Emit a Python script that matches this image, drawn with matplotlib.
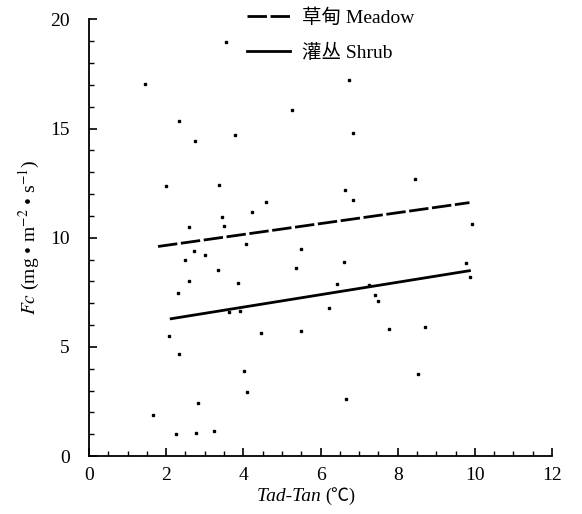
import matplotlib
matplotlib.use("Agg")
import matplotlib.pyplot as plt
from matplotlib.ticker import MultipleLocator

plt.rcParams['font.family'] = ['Liberation Serif', 'Noto Sans CJK SC', 'DejaVu Sans']
plt.rcParams['mathtext.fontset'] = 'stix'

# dados
x_pontos = [1.46, 3.55, 5.25, 2.34, 3.78, 2.75, 6.74, 6.83, 2.00, 3.37,
            4.58, 4.22, 3.44, 3.49, 2.59, 4.08, 2.72, 3.01, 2.50, 3.35,
            2.59, 3.85, 2.31, 5.50, 5.36, 6.63, 6.84, 8.46, 9.93, 6.62,
            6.42, 7.26, 7.42, 7.48, 6.23, 9.76, 9.87, 3.62, 3.92, 2.08,
            4.45, 5.49, 2.34, 4.03, 4.09, 2.83, 1.67, 2.25, 2.78, 3.23,
            7.78, 8.70, 8.52, 6.67]
y_pontos = [17.06, 18.96, 15.83, 15.37, 14.72, 14.43, 17.24, 14.81, 12.39, 12.40,
            11.64, 11.20, 10.93, 10.53, 10.48, 9.72, 9.41, 9.19, 8.99, 8.51,
            8.02, 7.91, 7.46, 9.47, 8.63, 12.20, 11.72, 12.68, 10.61, 8.89,
            7.86, 7.85, 7.37, 7.12, 6.80, 8.86, 8.19, 6.61, 6.64, 5.51,
            5.63, 5.72, 4.69, 3.90, 2.95, 2.45, 1.87, 1.03, 1.06, 1.16,
            5.80, 5.90, 3.74, 2.59]

# retas de ajuste
x_prado = [1.79, 9.86]
y_prado = [9.60, 11.61]
x_arbusto = [2.13, 9.86]
y_arbusto = [6.29, 8.49]

fig = plt.figure(figsize=(5.82, 5.14), dpi=100)
ax = fig.add_axes([0.1529, 0.1128, 0.7956, 0.8493])

ax.plot(x_pontos, y_pontos, 's', color='black', markersize=2.1, linestyle='none')
l1, = ax.plot(x_prado, y_prado, color='black', linewidth=2.0, dashes=(7, 1.3),
              label='草甸 Meadow')
l2, = ax.plot(x_arbusto, y_arbusto, color='black', linewidth=2.0,
              label='灌丛 Shrub')

ax.set_xlim(0, 12)
ax.set_ylim(0, 20)
ax.xaxis.set_major_locator(MultipleLocator(2))
ax.xaxis.set_minor_locator(MultipleLocator(0.5))
ax.yaxis.set_major_locator(MultipleLocator(5))
ax.yaxis.set_minor_locator(MultipleLocator(1))

ax.spines['top'].set_visible(False)
ax.spines['right'].set_visible(False)
ax.spines['left'].set_linewidth(1.3)
ax.spines['bottom'].set_linewidth(1.3)

ax.tick_params(which='major', direction='in', length=6, width=1.2, labelsize=14)
ax.tick_params(axis='x', which='major', pad=8)
ax.tick_params(axis='y', which='major', pad=14)
ax.tick_params(which='minor', direction='in', length=3.5, width=1.0)

# rótulo do eixo x em duas partes (itálico + símbolo ℃)
ax.text(0.51, -0.092, 'Tad-Tan ', transform=ax.transAxes, fontsize=14,
        style='italic', ha='right', va='center')
ax.text(0.51, -0.092, '(℃)', transform=ax.transAxes, fontsize=13,
        ha='left', va='center')
ax.set_ylabel(r'$Fc$ (mg • m$^{-2}$ • s$^{-1}$)', fontsize=14, labelpad=6)

ax.legend(handles=[l1, l2], loc='upper left', bbox_to_anchor=(0.395, 1.017),
          bbox_transform=fig.transFigure, frameon=False, fontsize=14,
          handlelength=2.2, handletextpad=0.6, labelspacing=0.85)

fig.savefig('out.png', dpi=100)
